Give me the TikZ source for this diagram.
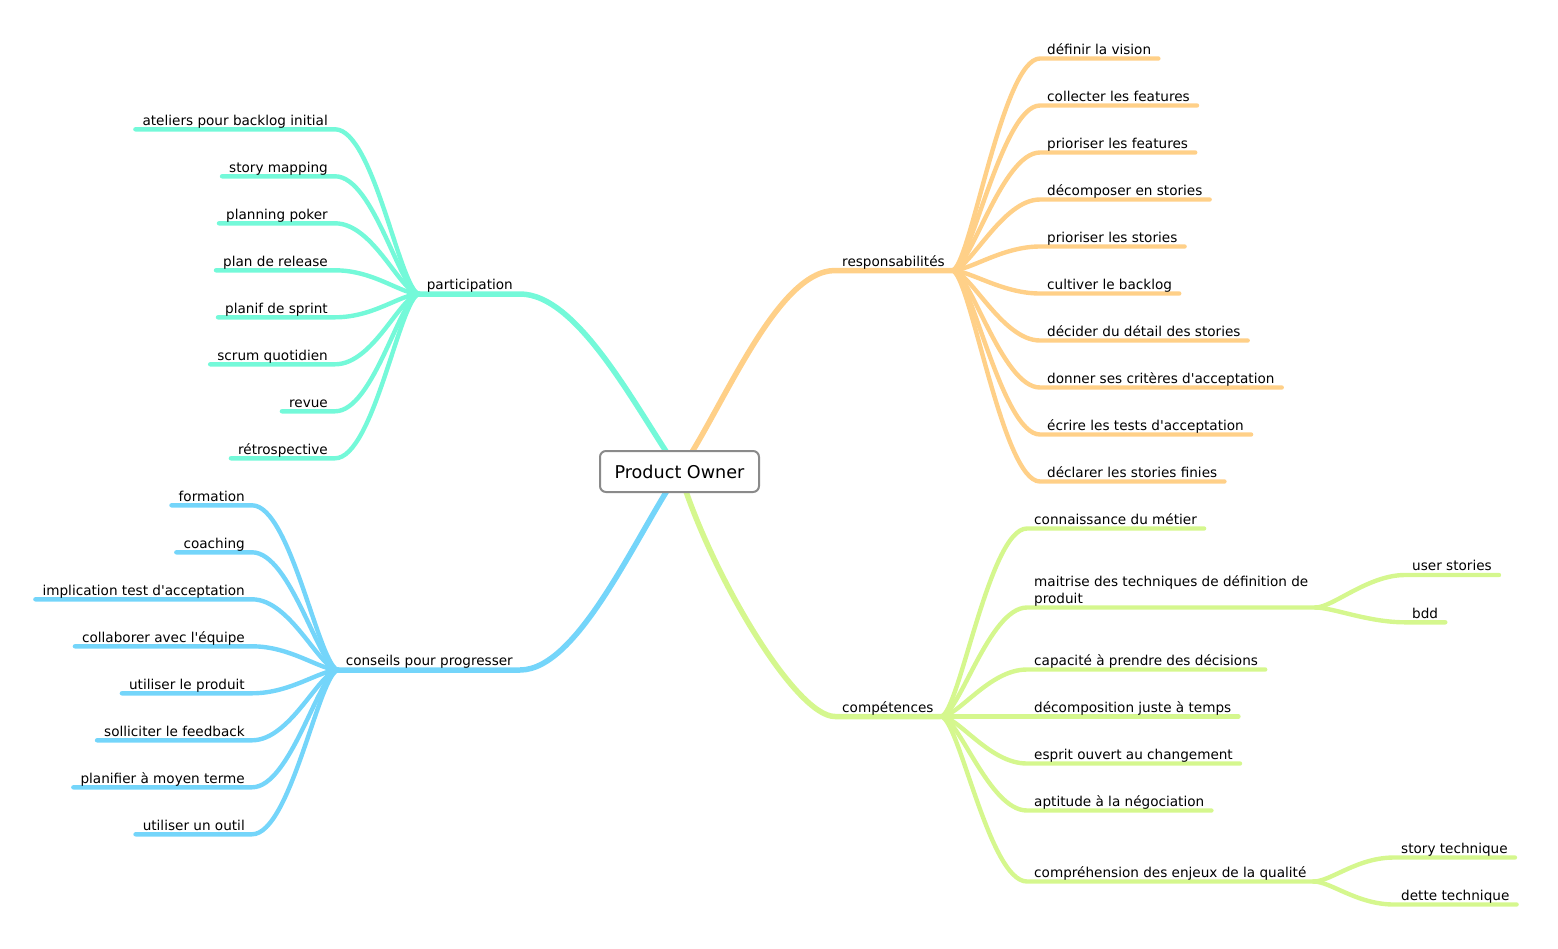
\documentclass[tikz,border=0pt]{standalone}
\usepackage{fontspec}
\newfontfamily\mapfont{DejaVu Sans}
\definecolor{parcol}{HTML}{74F9D9}
\definecolor{rescol}{HTML}{FFD088}
\definecolor{concol}{HTML}{74D5FA}
\definecolor{comcol}{HTML}{D5F78E}
\definecolor{rootgray}{HTML}{8A8A8A}
\pgfdeclarelayer{edges}
\pgfsetlayers{edges,main}
\begin{document}
\begin{tikzpicture}[x=1pt,y=-1pt,
    topic/.style={font=\mapfont\fontsize{13.6}{17}\selectfont, inner xsep=7pt, inner ysep=0pt,
      text height=10pt, text depth=4pt, align=left},
    root/.style={draw=rootgray, line width=2pt, rounded corners=6pt, fill=white,
      font=\mapfont\fontsize{17.6}{20}\selectfont, minimum width=159pt, minimum height=41pt},
    trunk/.style={line width=5.5pt, line cap=round},
    twig/.style={line width=4.4pt, line cap=round}]
  \useasboundingbox (0,0) rectangle (1558,948);

  \node[root] (po) at (679.5,471.5) {Product Owner};

  \node[topic, anchor=south east] (par) at (520,294) {participation};
  \node[topic, anchor=south west] (res) at (835,270.5) {responsabilités};
  \node[topic, anchor=south east] (con) at (520,670) {conseils pour progresser};
  \node[topic, anchor=south west] (com) at (835,716.5) {compétences};

  \node[topic, anchor=south east] (par1) at (335,129.3) {ateliers pour backlog initial};
  \node[topic, anchor=south east] (par2) at (335,176.3) {story mapping};
  \node[topic, anchor=south east] (par3) at (335,223.3) {planning poker};
  \node[topic, anchor=south east] (par4) at (335,270.3) {plan de release};
  \node[topic, anchor=south east] (par5) at (335,317.3) {planif de sprint};
  \node[topic, anchor=south east] (par6) at (335,364.3) {scrum quotidien};
  \node[topic, anchor=south east] (par7) at (335,411.3) {revue};
  \node[topic, anchor=south east] (par8) at (335,458.3) {rétrospective};

  \node[topic, anchor=south east] (con1) at (252,505.3) {formation};
  \node[topic, anchor=south east] (con2) at (252,552.3) {coaching};
  \node[topic, anchor=south east] (con3) at (252,599.3) {implication test d'acceptation};
  \node[topic, anchor=south east] (con4) at (252,646.3) {collaborer avec l'équipe};
  \node[topic, anchor=south east] (con5) at (252,693.3) {utiliser le produit};
  \node[topic, anchor=south east] (con6) at (252,740.3) {solliciter le feedback};
  \node[topic, anchor=south east] (con7) at (252,787.3) {planifier à moyen terme};
  \node[topic, anchor=south east] (con8) at (252,834.3) {utiliser un outil};

  \node[topic, anchor=south west] (res1) at (1040,58.5) {définir la vision};
  \node[topic, anchor=south west] (res2) at (1040,105.5) {collecter les features};
  \node[topic, anchor=south west] (res3) at (1040,152.5) {prioriser les features};
  \node[topic, anchor=south west] (res4) at (1040,199.5) {décomposer en stories};
  \node[topic, anchor=south west] (res5) at (1040,246.5) {prioriser les stories};
  \node[topic, anchor=south west] (res6) at (1040,293.5) {cultiver le backlog};
  \node[topic, anchor=south west] (res7) at (1040,340.5) {décider du détail des stories};
  \node[topic, anchor=south west] (res8) at (1040,387.5) {donner ses critères d'acceptation};
  \node[topic, anchor=south west] (res9) at (1040,434.5) {écrire les tests d'acceptation};
  \node[topic, anchor=south west] (res10) at (1040,481.5) {déclarer les stories finies};

  \node[topic, anchor=south west] (com1) at (1027,528.5) {connaissance du métier};
  \node[topic, anchor=south west, text height=27pt] (com2) at (1027,607.5)
    {maitrise des techniques de définition de\\produit};
  \node[topic, anchor=south west] (com3) at (1027,669.5) {capacité à prendre des décisions};
  \node[topic, anchor=south west] (com4) at (1027,716.5) {décomposition juste à temps};
  \node[topic, anchor=south west] (com5) at (1027,763.5) {esprit ouvert au changement};
  \node[topic, anchor=south west] (com6) at (1027,810.5) {aptitude à la négociation};
  \node[topic, anchor=south west] (com7) at (1027,881.5) {compréhension des enjeux de la qualité};

  \node[topic, anchor=south west] (com2a) at (1405,575) {user stories};
  \node[topic, anchor=south west] (com2b) at (1405,622.3) {bdd};
  \node[topic, anchor=south west] (com7a) at (1394,857.5) {story technique};
  \node[topic, anchor=south west] (com7b) at (1394,904.5) {dette technique};

  \begin{pgfonlayer}{edges}
    \draw[trunk, parcol] (po.center) .. controls +(-42,-60) and +(59,0) .. (par.south east) -- (par.south west);
    \draw[trunk, rescol] (po.center) .. controls +(42,-60) and +(-59,0) .. (res.south west) -- (res.south east);
    \draw[trunk, concol] (po.center) .. controls +(-42,60) and +(59,0) .. (con.south east) -- (con.south west);
    \draw[trunk, comcol] (po.center) .. controls +(30,100) and +(-40,0) .. (com.south west) -- (com.south east);

    \draw[twig, parcol] (par.south west) .. controls +(-19,0) and +(39,0) .. (par1.south east) -- (par1.south west);
    \draw[twig, parcol] (par.south west) .. controls +(-19,0) and +(39,0) .. (par2.south east) -- (par2.south west);
    \draw[twig, parcol] (par.south west) .. controls +(-19,0) and +(39,0) .. (par3.south east) -- (par3.south west);
    \draw[twig, parcol] (par.south west) .. controls +(-19,0) and +(39,0) .. (par4.south east) -- (par4.south west);
    \draw[twig, parcol] (par.south west) .. controls +(-19,0) and +(39,0) .. (par5.south east) -- (par5.south west);
    \draw[twig, parcol] (par.south west) .. controls +(-19,0) and +(39,0) .. (par6.south east) -- (par6.south west);
    \draw[twig, parcol] (par.south west) .. controls +(-19,0) and +(39,0) .. (par7.south east) -- (par7.south west);
    \draw[twig, parcol] (par.south west) .. controls +(-19,0) and +(39,0) .. (par8.south east) -- (par8.south west);

    \draw[twig, concol] (con.south west) .. controls +(-19,0) and +(39,0) .. (con1.south east) -- (con1.south west);
    \draw[twig, concol] (con.south west) .. controls +(-19,0) and +(39,0) .. (con2.south east) -- (con2.south west);
    \draw[twig, concol] (con.south west) .. controls +(-19,0) and +(39,0) .. (con3.south east) -- (con3.south west);
    \draw[twig, concol] (con.south west) .. controls +(-19,0) and +(39,0) .. (con4.south east) -- (con4.south west);
    \draw[twig, concol] (con.south west) .. controls +(-19,0) and +(39,0) .. (con5.south east) -- (con5.south west);
    \draw[twig, concol] (con.south west) .. controls +(-19,0) and +(39,0) .. (con6.south east) -- (con6.south west);
    \draw[twig, concol] (con.south west) .. controls +(-19,0) and +(39,0) .. (con7.south east) -- (con7.south west);
    \draw[twig, concol] (con.south west) .. controls +(-19,0) and +(39,0) .. (con8.south east) -- (con8.south west);

    \draw[twig, rescol] (res.south east) .. controls +(18,0) and +(-38,0) .. (res1.south west) -- (res1.south east);
    \draw[twig, rescol] (res.south east) .. controls +(18,0) and +(-38,0) .. (res2.south west) -- (res2.south east);
    \draw[twig, rescol] (res.south east) .. controls +(18,0) and +(-38,0) .. (res3.south west) -- (res3.south east);
    \draw[twig, rescol] (res.south east) .. controls +(18,0) and +(-38,0) .. (res4.south west) -- (res4.south east);
    \draw[twig, rescol] (res.south east) .. controls +(18,0) and +(-38,0) .. (res5.south west) -- (res5.south east);
    \draw[twig, rescol] (res.south east) .. controls +(18,0) and +(-38,0) .. (res6.south west) -- (res6.south east);
    \draw[twig, rescol] (res.south east) .. controls +(18,0) and +(-38,0) .. (res7.south west) -- (res7.south east);
    \draw[twig, rescol] (res.south east) .. controls +(18,0) and +(-38,0) .. (res8.south west) -- (res8.south east);
    \draw[twig, rescol] (res.south east) .. controls +(18,0) and +(-38,0) .. (res9.south west) -- (res9.south east);
    \draw[twig, rescol] (res.south east) .. controls +(18,0) and +(-38,0) .. (res10.south west) -- (res10.south east);

    \draw[twig, comcol] (com.south east) .. controls +(18,0) and +(-38,0) .. (com1.south west) -- (com1.south east);
    \draw[twig, comcol] (com.south east) .. controls +(18,0) and +(-38,0) .. (com2.south west) -- (com2.south east);
    \draw[twig, comcol] (com.south east) .. controls +(18,0) and +(-38,0) .. (com3.south west) -- (com3.south east);
    \draw[twig, comcol] (com.south east) .. controls +(18,0) and +(-38,0) .. (com4.south west) -- (com4.south east);
    \draw[twig, comcol] (com.south east) .. controls +(18,0) and +(-38,0) .. (com5.south west) -- (com5.south east);
    \draw[twig, comcol] (com.south east) .. controls +(18,0) and +(-38,0) .. (com6.south west) -- (com6.south east);
    \draw[twig, comcol] (com.south east) .. controls +(18,0) and +(-38,0) .. (com7.south west) -- (com7.south east);

    \draw[twig, comcol] (com2.south east) .. controls +(17,0) and +(-37,0) .. (com2a.south west) -- (com2a.south east);
    \draw[twig, comcol] (com2.south east) .. controls +(17,0) and +(-37,0) .. (com2b.south west) -- (com2b.south east);
    \draw[twig, comcol] (com7.south east) .. controls +(17,0) and +(-37,0) .. (com7a.south west) -- (com7a.south east);
    \draw[twig, comcol] (com7.south east) .. controls +(17,0) and +(-37,0) .. (com7b.south west) -- (com7b.south east);
  \end{pgfonlayer}
\end{tikzpicture}
\end{document}
